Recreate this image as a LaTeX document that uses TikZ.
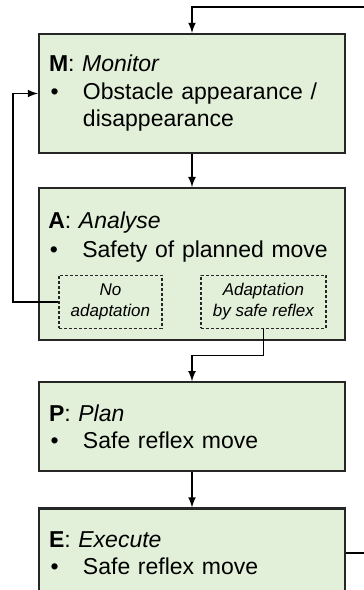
\documentclass[tikz,border=0pt]{standalone}
\usepackage{fontspec}
\setmainfont{Liberation Sans}
\usepackage{tikz}
\usetikzlibrary{calc, positioning, arrows}
\definecolor{stagefill}{HTML}{E2EFD9}
\definecolor{stageline}{HTML}{262626}
\tikzstyle{flow}    = [line width=0.75pt,->,>=latex]
\newcommand{\mapeitem}[1]{\makebox[17pt][l]{\hspace{0.8pt}\textbullet}#1}

\begin{document}
\begin{tikzpicture}[
    x=0.5pt, y=0.5pt,
    stage/.style={draw=stageline, line width=1.1pt, fill=stagefill,
      minimum width=153pt, text width=143pt, inner xsep=5pt, align=left,
      font=\fontsize{11.5}{13.75}\selectfont},
    choice/.style={draw=stageline, line width=0.6pt,
      dash pattern=on 1.5pt off 1pt, minimum height=26.5pt, inner sep=1pt,
      align=center, font=\fontsize{8.5}{10.5}\selectfont\itshape},
  ]
  \useasboundingbox (0,0) rectangle (364,590);
  \clip (0,0) rectangle (364,590);

  % MAPE stages
  \node[stage, minimum height=59.5pt] (M) at (192,496.5)
    {\textbf{M}: \textit{Monitor}\\
     \mapeitem{Obstacle appearance /}\\
     \hspace*{17pt}disappearance};
  \node[stage, minimum height=76pt, below=16.5pt of M] (A) {};
  \node[anchor=north west, inner sep=0pt, text width=143pt, align=left,
    font=\fontsize{11.5}{14.5}\selectfont]
    (Atext) at ([xshift=5pt,yshift=-12pt]A.north west)
    {\textbf{A}: \textit{Analyse}\\
     \mapeitem{Safety of planned move}};
  \node[stage, minimum height=44.5pt, below=20pt of A] (P)
    {\textbf{P}: \textit{Plan}\\
     \mapeitem{Safe reflex move}};
  \node[stage, minimum height=44.5pt, below=17.5pt of P] (E)
    {\textbf{E}: \textit{Execute}\\
     \mapeitem{Safe reflex move}};

  % outcomes of the analysis
  \node[choice, minimum width=51.5pt] (noadapt)
    at ($(A.south west)+(72.5,39.5)$) {No\\adaptation};
  \node[choice, minimum width=62.5pt] (adapt)
    at ($(A.south west)+(225.5,39.5)$) {Adaptation\\by safe reflex};

  \coordinate (loop) at (372,583);
  \coordinate (bend) at ($(P.north)+(0,26)$);

  \draw[flow] (M) -- (A);
  \draw[flow] (P) -- (E);
  \draw[flow] (adapt.south) |- (bend) -- (P.north);
  \draw[flow] (noadapt.west) -| ($(M.west)+(-25,0)$) -- (M.west);
  \draw[flow] (E.east) -| (loop) -| (M.north);
\end{tikzpicture}
\end{document}
